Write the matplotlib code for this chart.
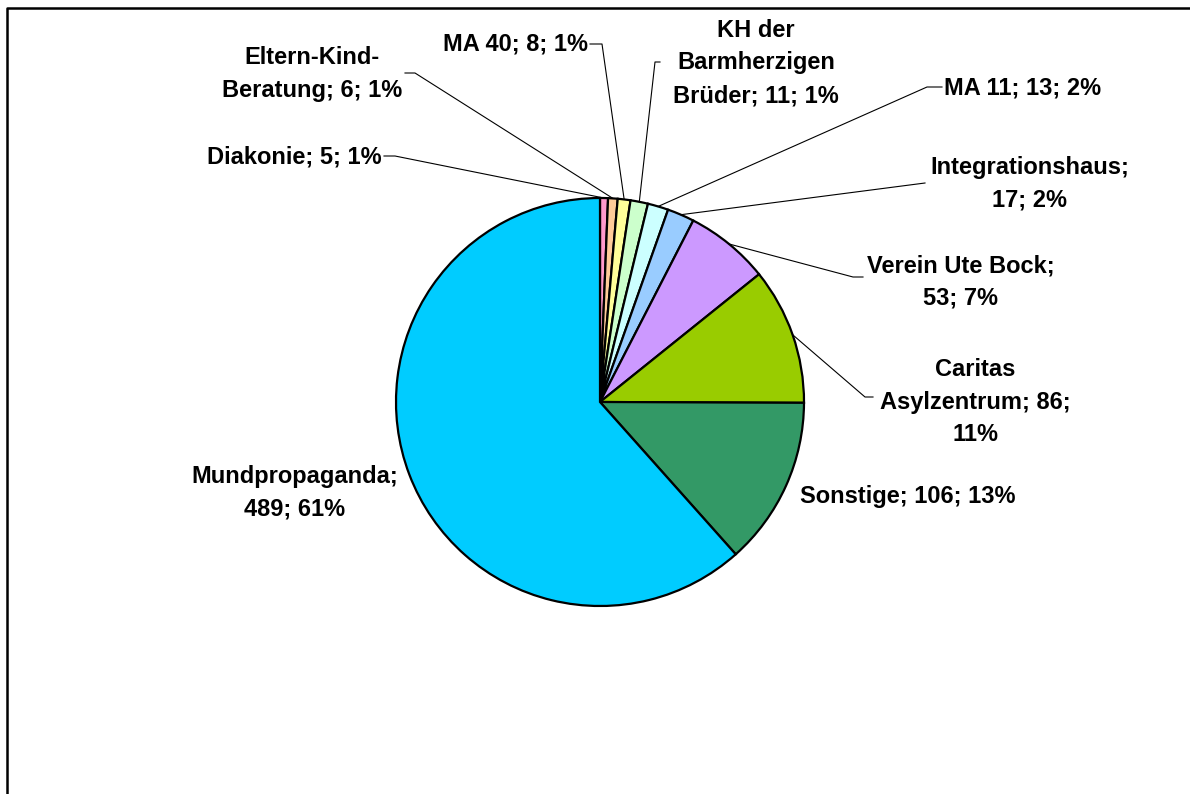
import numpy as np
import matplotlib
matplotlib.use("Agg")
import matplotlib.pyplot as plt

plt.rcParams['font.family'] = ['Liberation Sans', 'DejaVu Sans']

# data (clockwise from 12 o'clock)
labels = ["Diakonie", "Eltern-Kind-Beratung", "MA 40", "KH der Barmherzigen Brüder",
          "MA 11", "Integrationshaus", "Verein Ute Bock", "Caritas Asylzentrum",
          "Sonstige", "Mundpropaganda"]
values = [5, 6, 8, 11, 13, 17, 53, 86, 106, 489]
percents = ["1%", "1%", "1%", "1%", "2%", "2%", "7%", "11%", "13%", "61%"]
colors = ["#FF99CC", "#FFCC99", "#FFFF99", "#CCFFCC", "#CCFFFF",
          "#99CCFF", "#CC99FF", "#99CC00", "#339966", "#00CCFF"]

# label text as shown (line breaks)
label_text = [
    "Diakonie; 5; 1%",
    "Eltern-Kind-\nBeratung; 6; 1%",
    "MA 40; 8; 1%",
    "KH der\nBarmherzigen\nBrüder; 11; 1%",
    "MA 11; 13; 2%",
    "Integrationshaus;\n17; 2%",
    "Verein Ute Bock;\n53; 7%",
    "Caritas\nAsylzentrum; 86;\n11%",
    "Sonstige; 106; 13%",
    "Mundpropaganda;\n489; 61%",
]
# pixel anchor of each label (x, y, horizontal alignment)
text_pos = [(382, 157, 'right'), (402, 74, 'right'), (588, 44, 'right'),
            (673, 63, 'left'), (944, 88, 'left'), (930, 184, 'left'),
            (867, 282, 'left'), (880, 402, 'left'), (800, 497, 'left'),
            (398, 493, 'right')]
# leader: text end point, elbow point (pixels)
elbows = [[(384, 156), (395, 156)],
          [(405, 73), (415, 73)],
          [(590, 44), (602, 44)],
          [(660, 62), (655, 62)],
          [(942, 87), (927, 87)],
          [(925, 183), (925, 183)],
          [(863, 277), (853, 277)],
          [(873, 397), (865, 397)],
          None, None]

W, H = 1190, 794
cx, cy, R = 600, H - 402, 204

fig = plt.figure(figsize=(11.9, 7.94), dpi=100)
ax = fig.add_axes([0, 0, 1, 1])

wedges, _ = ax.pie(values, colors=colors, startangle=90, counterclock=False,
                   center=(cx, cy), radius=R,
                   wedgeprops=dict(edgecolor='black', linewidth=1.6))
ax.set_xlim(0, W)
ax.set_ylim(0, H)
ax.set_aspect('equal')
ax.axis('off')

for i, w in enumerate(wedges):
    tx, ty, ha = text_pos[i]
    ax.text(tx, H - ty, label_text[i], ha=ha, va='center', multialignment='center',
            fontsize=17, fontweight='bold', linespacing=1.55)
    if elbows[i] is None:
        continue
    mid = np.deg2rad((w.theta1 + w.theta2) / 2)
    px, py = cx + R * np.cos(mid), cy + R * np.sin(mid)
    (ax1, ay1), (ex, ey) = elbows[i]
    ax.plot([ax1, ex, px], [H - ay1, H - ey, py], color='black', lw=0.8)

# chart area border (left and top visible)
ax.plot([7, 7, W + 5], [-5, H - 8, H - 8], color='black', lw=1.8, clip_on=False)

fig.savefig("out.png", dpi=100)
